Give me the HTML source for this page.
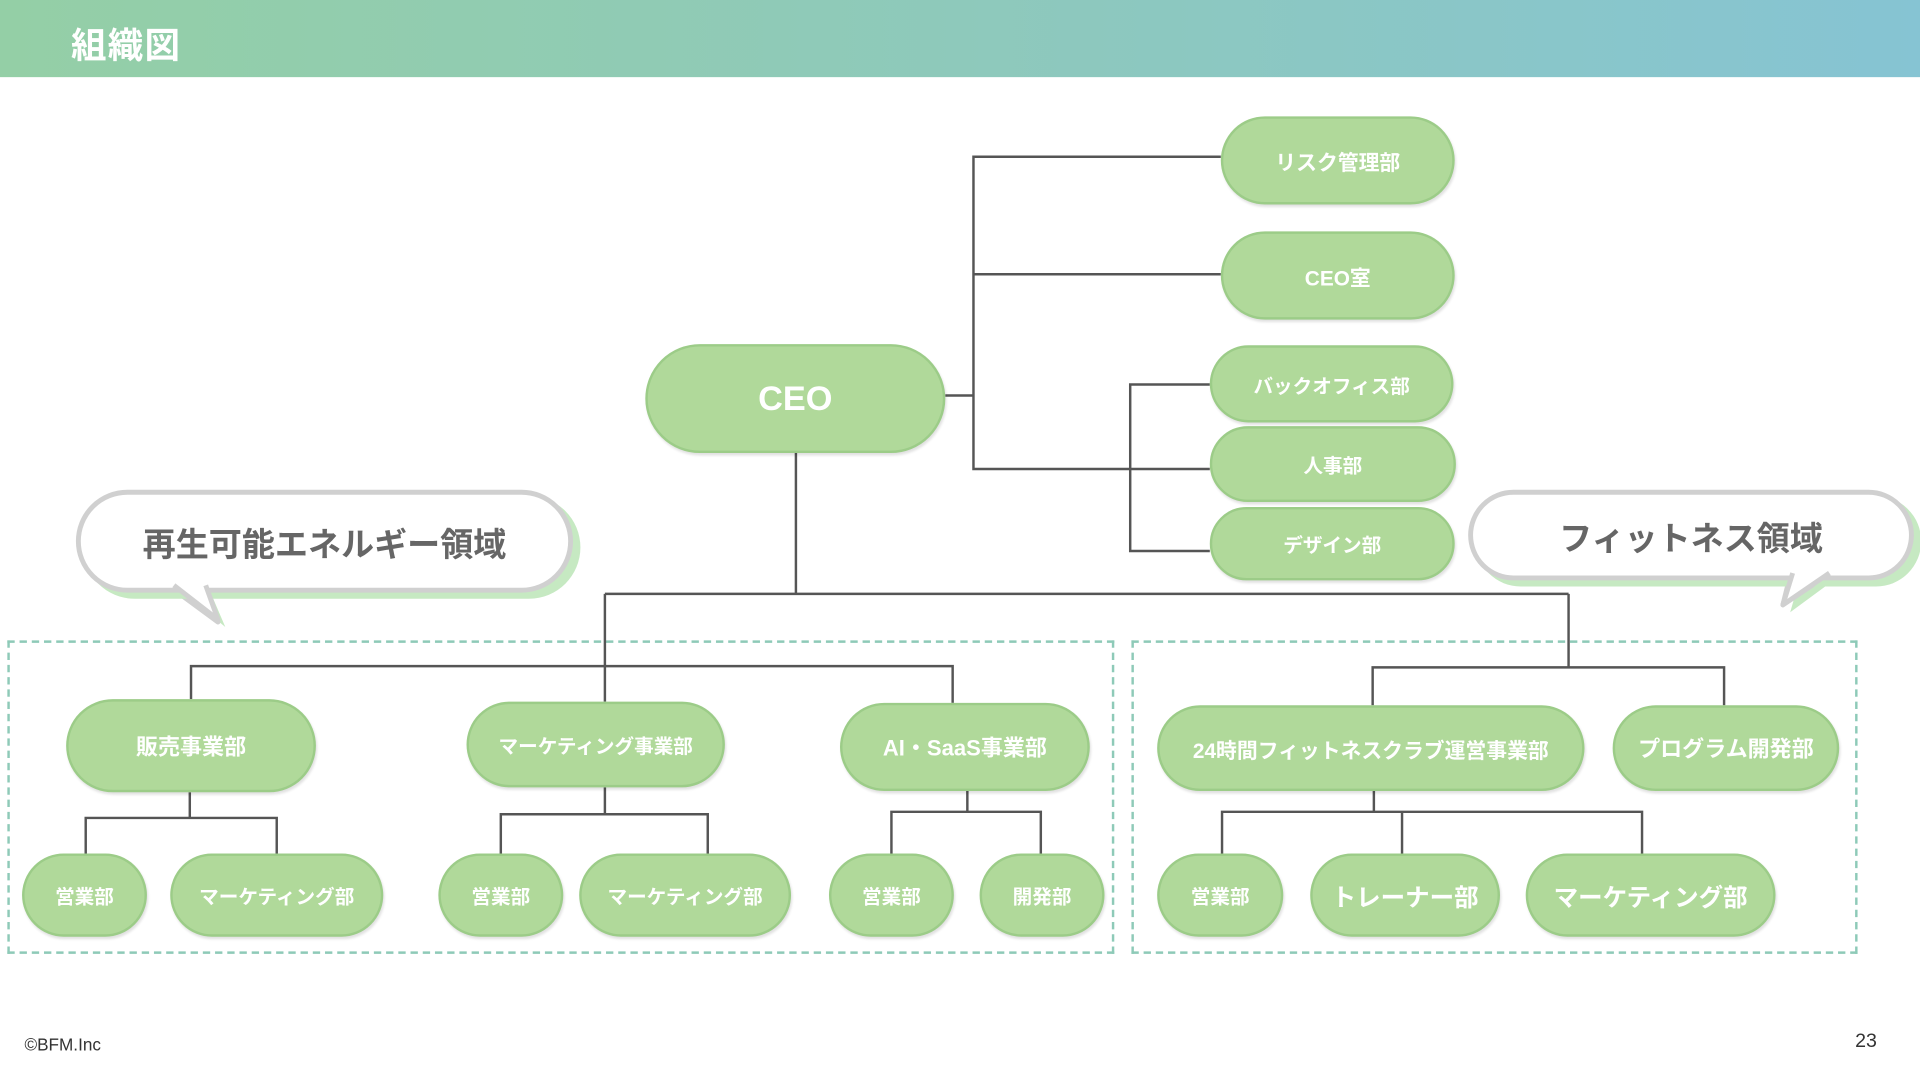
<!DOCTYPE html>
<html><head><meta charset="utf-8"><style>
html,body{margin:0;padding:0;width:1920px;height:1080px;overflow:hidden;background:#fff}
#w{position:absolute;left:0;top:0;width:1568px;height:882px;transform:scale(1.22449);transform-origin:0 0;font-family:"Liberation Sans","Noto Sans CJK JP",sans-serif}
.h{position:absolute;left:0;top:0;width:1568px;height:63px;background:linear-gradient(90deg,#94cfa6,#8ec9bb 50%,#86c4d3)}
.h span{position:absolute;left:58px;top:14px;color:#fff;font-weight:bold;font-size:29px;letter-spacing:1px}
.n{position:absolute;box-sizing:border-box;background:#b0d99a;border:2px solid #9ccc88;border-radius:40px;box-shadow:1px 2px 2px rgba(0,0,0,.12);display:flex;align-items:center;justify-content:center;color:#fff;font-weight:bold;font-size:17px;white-space:nowrap}
.d{position:absolute;border:2px dashed #8ecab8;box-sizing:border-box}
.b{position:absolute;box-sizing:border-box;background:#fff;border:4px solid #d0d0d0;border-radius:45px;box-shadow:6px 5px 0 #c6e9c2;display:flex;align-items:center;justify-content:center;color:#666;font-weight:bold;font-size:27px}
</style></head><body><div id="w">
<div class="h"><span>組織図</span></div>
<div class="d" style="left:6px;top:523px;width:904px;height:256px"></div>
<div class="d" style="left:924px;top:523px;width:593px;height:256px"></div>
<svg style="position:absolute;left:0;top:0" width="1568" height="882">
<g stroke="#555" stroke-width="2" fill="none">
<path d="M997 128H795V383H988M795 224H997M772 323H795"/>
<path d="M988 314H923V450H988M923 383"/>
<path d="M650 370V485M494 485H1281M494 485V573M1281 485V545"/>
<path d="M156 571V544H778V574"/>
<path d="M155 647V668M70 697V668H226V697"/>
<path d="M494 643V665M409 697V665H578V697"/>
<path d="M790 646V663M728 697V663H850V697"/>
<path d="M1121 576V545H1408V576"/>
<path d="M1122 646V663M998 697V663H1341V697M1145 663V697"/>
</g>
<path d="M150 484 L184 512 L172 484Z" fill="#c6e9c2"/>
<path d="M140 480 L178 508 L166 480Z" fill="#fff" stroke="#d0d0d0" stroke-width="4" stroke-linejoin="round"/>
<path d="M1470 472 L1462 500 L1500 472Z" fill="#c6e9c2"/>
<path d="M1462 470 L1456 494 L1492 470Z" fill="#fff" stroke="#d0d0d0" stroke-width="4" stroke-linejoin="round"/>
</svg>
<div class="b" style="left:62px;top:400px;width:406px;height:84px">再生可能エネルギー領域</div>
<div class="b" style="left:1199px;top:400px;width:364px;height:74px">フィットネス領域</div>
<svg style="position:absolute;left:0;top:0" width="1568" height="882">
<path d="M142 478 L178 506 L168 478" fill="#fff" stroke="#d0d0d0" stroke-width="4" stroke-linejoin="round"/>
<path d="M1464 468 L1456 494 L1494 468" fill="#fff" stroke="#d0d0d0" stroke-width="4" stroke-linejoin="round"/>
</svg>
<div class="n" style="left:527px;top:281px;width:245px;height:89px;font-size:28px;border-radius:45px">CEO</div>
<div class="n" style="left:997px;top:95px;width:191px;height:72px">リスク管理部</div>
<div class="n" style="left:997px;top:189px;width:191px;height:72px">CEO室</div>
<div class="n" style="left:988px;top:282px;width:199px;height:63px;font-size:16px">バックオフィス部</div>
<div class="n" style="left:988px;top:348px;width:201px;height:62px;font-size:16px">人事部</div>
<div class="n" style="left:988px;top:414px;width:200px;height:60px;font-size:16px">デザイン部</div>
<div class="n" style="left:54px;top:571px;width:204px;height:76px;font-size:18px">販売事業部</div>
<div class="n" style="left:381px;top:573px;width:211px;height:70px;font-size:16px">マーケティング事業部</div>
<div class="n" style="left:686px;top:574px;width:204px;height:72px;font-size:18px">AI・SaaS事業部</div>
<div class="n" style="left:945px;top:576px;width:349px;height:70px">24時間フィットネスクラブ運営事業部</div>
<div class="n" style="left:1317px;top:576px;width:185px;height:70px;font-size:18px">プログラム開発部</div>
<div class="n" style="left:18px;top:697px;width:102px;height:68px;font-size:16px">営業部</div>
<div class="n" style="left:139px;top:697px;width:174px;height:68px;font-size:16px">マーケティング部</div>
<div class="n" style="left:358px;top:697px;width:102px;height:68px;font-size:16px">営業部</div>
<div class="n" style="left:473px;top:697px;width:173px;height:68px;font-size:16px">マーケティング部</div>
<div class="n" style="left:677px;top:697px;width:102px;height:68px;font-size:16px">営業部</div>
<div class="n" style="left:800px;top:697px;width:102px;height:68px;font-size:16px">開発部</div>
<div class="n" style="left:945px;top:697px;width:103px;height:68px;font-size:16px">営業部</div>
<div class="n" style="left:1070px;top:697px;width:155px;height:68px;font-size:20px">トレーナー部</div>
<div class="n" style="left:1246px;top:697px;width:204px;height:68px;font-size:20px">マーケティング部</div>
<div style="position:absolute;left:20px;top:845px;font-size:14px;color:#333">©BFM.Inc</div>
<div style="position:absolute;left:1515px;top:842px;font-size:16px;color:#333">23</div>
</div></body></html>
